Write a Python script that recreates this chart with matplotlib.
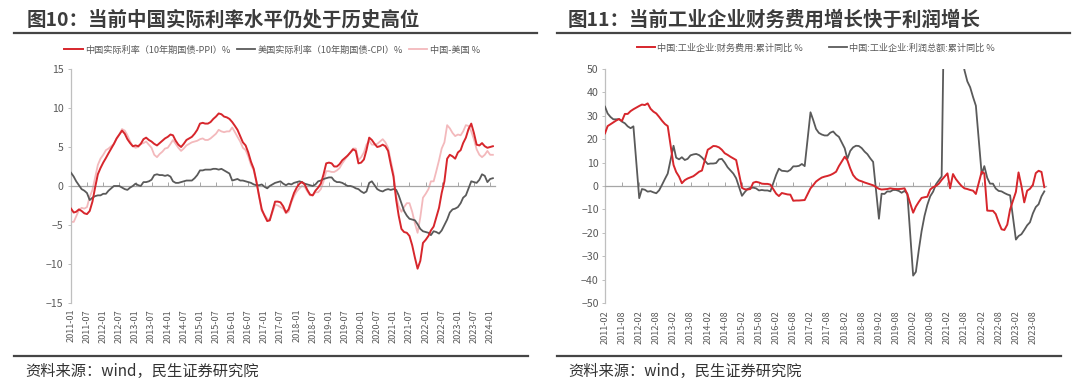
import matplotlib
matplotlib.use('Agg')
import matplotlib.pyplot as plt
from matplotlib.lines import Line2D
import pandas as pd

plt.rcParams['font.family'] = ['Noto Sans CJK SC', 'DejaVu Sans']

# ---------------- data: left chart (monthly, 2011-01 .. 2024-02) ----------------
china_real = [
    -2.9, -3.4, -3.3, -3.0, -3.2, -3.5, -3.6, -3.2, -2.0, -0.2, 1.5, 2.3,
    3.0, 3.6, 4.2, 4.8, 5.4, 6.1, 6.6, 7.1, 6.7, 6.0, 5.5, 5.1,
    5.2, 5.1, 5.4, 6.0, 6.2, 5.9, 5.7, 5.4, 5.2, 5.5, 5.8, 6.1,
    6.3, 6.6, 6.5, 5.8, 5.3, 5.0, 5.4, 5.9, 6.1, 6.3, 6.7, 7.2,
    8.0, 8.1, 8.0, 8.0, 8.2, 8.6, 8.9, 9.3, 9.2, 8.9, 8.8, 8.6,
    8.2, 7.7, 7.2, 6.4, 5.6, 5.2, 4.3, 3.1, 2.2, 0.6, -1.3, -3.0,
    -3.8, -4.5, -4.4, -3.2, -2.0, -2.0, -2.1, -2.6, -3.4, -3.0, -1.9, -0.9,
    -0.2, 0.3, 0.5, 0.2, -0.5, -1.1, -1.2, -0.6, -0.2, 0.3, 1.5, 2.9,
    3.0, 2.9, 2.5, 2.5, 2.8, 3.3, 3.6, 3.9, 4.3, 4.7, 4.5, 2.9,
    3.0, 3.4, 4.6, 6.2, 5.9, 5.4, 5.0, 5.1, 5.3, 5.1, 4.5, 2.8,
    1.2, -1.8, -3.8, -5.5, -5.9, -6.0, -6.4, -7.6, -9.2, -10.6, -9.6, -7.3,
    -6.9, -6.4, -5.7, -5.2, -4.0, -2.8, -0.9, 0.6, 3.5, 4.0, 3.8, 3.5,
    4.3, 4.6, 5.5, 6.2, 7.3, 8.0, 6.8, 5.3, 5.2, 5.5, 5.1, 4.9,
    5.0, 5.1,
]
us_real = [
    1.7, 1.2, 0.6, 0.1, -0.4, -0.6, -0.9, -1.8, -1.5, -1.3, -1.2, -1.2,
    -1.0, -1.0, -0.6, -0.3, 0.0, 0.0, 0.0, -0.2, -0.4, -0.5, -0.2, 0.0,
    0.3, 0.1, 0.0, 0.5, 0.5, 0.6, 0.8, 1.4, 1.5, 1.4, 1.4, 1.3,
    1.4, 1.2, 0.6, 0.4, 0.4, 0.5, 0.6, 0.7, 0.7, 0.7, 1.0, 1.4,
    2.0, 2.0, 2.1, 2.1, 2.1, 2.2, 2.2, 2.1, 2.2, 2.0, 1.8, 1.6,
    0.7, 0.8, 0.9, 0.7, 0.7, 0.6, 0.5, 0.4, 0.2, 0.1, 0.1, 0.2,
    -0.1, -0.3, 0.0, 0.2, 0.4, 0.5, 0.6, 0.3, 0.1, 0.3, 0.2, 0.4,
    0.5, 0.6, 0.5, 0.3, 0.2, 0.1, 0.0, 0.2, 0.6, 0.7, 0.9, 1.0,
    1.1, 1.1, 0.7, 0.5, 0.5, 0.4, 0.2, 0.0, 0.0, -0.1, -0.3, -0.4,
    -0.7, -0.9, -0.7, 0.4, 0.6, 0.1, -0.4, -0.6, -0.7, -0.5, -0.4, -0.5,
    -0.4, -0.5, -1.2, -2.2, -3.2, -3.8, -4.2, -4.3, -4.4, -4.9, -5.5, -5.8,
    -5.9, -6.0, -6.3, -5.8, -5.9, -6.1, -5.7, -5.0, -4.3, -3.4, -3.0, -2.9,
    -2.7, -2.2, -1.5, -1.2, -0.3, 0.6, 0.5, 0.4, 0.8, 1.5, 1.3, 0.5,
    0.9, 1.0,
]
china_minus_us = [
    -4.6, -4.6, -3.9, -3.1, -2.8, -2.9, -2.7, -1.4, -0.5, 1.1, 2.7, 3.5,
    4.0, 4.6, 4.8, 5.1, 5.4, 6.1, 6.6, 7.3, 7.1, 6.5, 5.7, 5.1,
    4.9, 5.0, 5.4, 5.5, 5.7, 5.3, 4.9, 4.0, 3.7, 4.1, 4.4, 4.8,
    4.9, 5.4, 5.9, 5.4, 4.9, 4.5, 4.8, 5.2, 5.4, 5.6, 5.7, 5.8,
    6.0, 6.1, 5.9, 5.9, 6.1, 6.4, 6.7, 7.2, 7.0, 6.9, 7.0, 7.0,
    7.5, 6.9, 6.3, 5.7, 4.9, 4.6, 3.8, 2.7, 2.0, 0.5, -1.4, -3.2,
    -3.7, -4.2, -4.4, -3.4, -2.4, -2.5, -2.7, -2.9, -3.5, -3.3, -2.1, -1.3,
    -0.7, -0.3, 0.0, -0.1, -0.7, -1.2, -1.2, -0.8, -0.8, -0.4, 0.6, 1.9,
    1.9, 1.8, 1.8, 2.0, 2.3, 2.9, 3.4, 3.9, 4.3, 4.8, 4.8, 3.3,
    3.7, 4.3, 5.3, 5.8, 5.3, 5.3, 5.4, 5.7, 6.0, 5.6, 4.9, 3.3,
    1.6, -1.3, -2.6, -3.3, -2.7, -2.2, -2.2, -3.3, -4.8, -6.0, -4.0, -1.5,
    -1.0, -0.4, 0.6, 0.6, 1.9, 3.3, 4.8, 5.6, 7.8, 7.4, 6.8, 6.4,
    6.6, 6.5, 7.0, 7.8, 7.7, 7.0, 6.0, 4.7, 4.0, 3.7, 4.0, 4.5,
    4.0, 4.0,
]
left_labels = ['中国实际利率（10年期国债-PPI）%', '美国实际利率（10年期国债-CPI）%', '中国-美国 %']
left_start = '2011-01-01'

# ---------------- data: right chart (Feb..Dec each year, 2011-2023) ----------------
fin_cost_yoy = [
    22.5, 25.6, 26.4, 27.2, 28.0, 28.6, 27.8, 30.8, 30.8, 32.0, 32.8,
    34.2, 34.8, 34.6, 35.3, 33.0, 31.8, 31.0, 29.5, 27.9, 26.5, 25.6,
    9.0, 6.0, 4.0, 1.2, 2.5, 3.2, 3.7, 4.2, 5.1, 6.1, 6.6,
    15.5, 16.2, 17.1, 17.0, 16.5, 15.5, 14.0, 13.3, 12.5, 11.8, 11.1,
    -0.8, -1.4, -1.5, -1.3, 1.4, 1.8, 1.5, 1.0, 0.9, 0.9, 0.6,
    -3.3, -4.3, -3.0, -3.3, -3.6, -3.7, -6.3, -6.2, -6.2, -6.1, -6.0,
    -1.0, 0.3, 1.9, 2.8, 3.6, 4.0, 4.3, 4.7, 5.3, 6.1, 8.5,
    12.5, 11.0, 7.5, 4.7, 3.2, 2.4, 2.0, 1.5, 1.1, 0.7, 0.3,
    -1.2, -1.5, -1.4, -1.3, -1.0, -1.2, -1.3, -1.3, -1.2, -1.0, -3.5,
    -11.4, -8.8, -6.8, -5.1, -4.8, -4.6, -1.5, -0.5, 0.0, 1.0, 2.6,
    5.4, -1.0, 5.1, 3.0, 1.4, 0.0, -1.0, -1.3, -1.7, -2.0, -3.4,
    6.1, 5.4, -10.5, -10.6, -10.6, -12.0, -15.5, -18.5, -18.8, -16.5, -10.0,
    -2.5, 5.8, 0.0, -7.0, -2.0, -1.2, 0.5, 5.5, 6.5, 6.0, -0.5,
]
profit_yoy = [
    33.9, 31.0, 29.5, 28.5, 28.5, 28.6, 27.5, 26.8, 25.5, 24.7, 25.5,
    -5.2, -1.3, -1.6, -2.4, -2.2, -2.7, -3.1, -1.8, 0.5, 3.0, 5.3,
    17.2, 12.1, 11.4, 12.3, 11.1, 11.6, 13.1, 13.5, 13.7, 13.2, 12.2,
    9.4, 9.6, 9.6, 9.8, 11.4, 11.6, 10.0, 8.0, 6.7, 5.3, 3.3,
    -4.2, -2.7, -1.3, -0.8, -0.7, -1.0, -1.9, -1.7, -1.9, -1.9, -2.3,
    4.8, 7.4, 6.5, 6.4, 6.2, 6.9, 8.4, 8.4, 8.6, 9.4, 8.5,
    31.5, 28.3, 24.4, 22.7, 22.0, 21.6, 21.6, 22.8, 23.3, 21.9, 21.0,
    16.1, 11.6, 15.0, 16.5, 17.2, 17.1, 16.2, 14.7, 13.6, 11.8, 10.3,
    -14.0, -3.3, -3.4, -2.3, -2.4, -1.7, -1.7, -2.1, -2.9, -2.1, -3.3,
    -38.3, -36.7, -27.4, -19.3, -12.8, -8.1, -4.4, -2.4, 0.7, 2.4, 4.1,
    178.9, 137.3, 106.0, 83.4, 66.9, 57.3, 49.5, 44.7, 42.2, 38.0, 34.3,
    5.0, 8.5, 3.5, 1.0, 1.0, -1.1, -2.1, -2.3, -3.0, -3.6, -4.0,
    -22.9, -21.4, -20.6, -18.8, -16.8, -15.5, -11.7, -9.0, -7.8, -4.4, -2.3,
]
right_labels = ['中国:工业企业:财务费用:累计同比 %', '中国:工业企业:利润总额:累计同比 %']

RED = '#D7262C'
GRAY = '#5A5A5A'
PINK = '#F3B9BC'
TXT = '#595959'

W, H = 1080, 390
fig = plt.figure(figsize=(W / 100, H / 100), dpi=100)


def fx(px):
    return px / W


def fy(py):
    return 1 - py / H


def style_axis(ax, pad):
    for s in ('top', 'right'):
        ax.spines[s].set_visible(False)
    ax.spines['left'].set_color('#BFBFBF')
    ax.spines['left'].set_linewidth(0.9)
    ax.spines['bottom'].set_position(('data', 0))
    ax.spines['bottom'].set_color('#A6A6A6')
    ax.spines['bottom'].set_linewidth(0.9)
    ax.tick_params(axis='x', direction='in', length=3, width=0.7, color='#A6A6A6',
                   pad=pad, labelrotation=90, labelsize=6.6, labelcolor=TXT)
    ax.tick_params(axis='y', direction='out', length=2.5, width=0.7, color='#BFBFBF',
                   pad=3, labelsize=7.6, labelcolor=TXT)
    ax.set_facecolor('none')


# ---------------- left chart ----------------
ldates = pd.date_range(left_start, periods=len(china_real), freq='MS')
ax1 = fig.add_axes([fx(71), fy(303), fx(495 - 71), (303 - 69) / H])
ax1.plot(ldates, china_minus_us, color=PINK, lw=1.3, zorder=2, label=left_labels[2])
ax1.plot(ldates, us_real, color=GRAY, lw=1.3, zorder=3, label=left_labels[1])
ax1.plot(ldates, china_real, color=RED, lw=1.4, zorder=4, label=left_labels[0])
ax1.set_ylim(-15, 15)
ax1.set_yticks(range(-15, 16, 5))
lticks = pd.date_range('2011-01-01', '2024-01-01', freq='6MS')
ax1.set_xticks(lticks)
ax1.set_xticklabels([d.strftime('%Y-%m') for d in lticks])
ax1.set_xlim(pd.Timestamp('2011-01-01'), pd.Timestamp('2024-02-25'))
style_axis(ax1, 88.5)
h, l = ax1.get_legend_handles_labels()
order = [2, 1, 0]
ax1.legend([h[i] for i in order], [l[i] for i in order], loc='center',
           bbox_to_anchor=(fx(272), fy(50)), bbox_transform=fig.transFigure,
           ncol=3, frameon=False, fontsize=6.6, handlelength=2.0, handletextpad=0.25,
           columnspacing=0.7, labelcolor=TXT)

# ---------------- right chart ----------------
all_m = pd.date_range('2011-02-01', '2023-12-01', freq='MS')
rdates = all_m[all_m.month != 1]
ax2 = fig.add_axes([fx(605), fy(303), fx(1046 - 605), (303 - 69) / H])
ax2.plot(rdates, fin_cost_yoy, color=RED, lw=1.4, zorder=4, label=right_labels[0])
ax2.plot(rdates, profit_yoy, color=GRAY, lw=1.3, zorder=3, label=right_labels[1])
ax2.set_ylim(-50, 50)
ax2.set_yticks(range(-50, 51, 10))
rticks = pd.date_range('2011-02-01', '2023-08-01', freq='6MS')
ax2.set_xticks(rticks)
ax2.set_xticklabels([d.strftime('%Y-%m') for d in rticks])
ax2.set_xlim(pd.Timestamp('2011-02-01'), pd.Timestamp('2023-12-19'))
style_axis(ax2, 89.5)
ax2.tick_params(axis='y', pad=2)
ax2.legend(loc='center', bbox_to_anchor=(fx(816), fy(48)), bbox_transform=fig.transFigure,
           ncol=2, frameon=False, fontsize=6.6, handlelength=2.0, handletextpad=0.25,
           columnspacing=2.8, labelcolor=TXT)

# ---------------- titles, rules, sources ----------------
fig.text(fx(27), fy(20), '图10：当前中国实际利率水平仍处于历史高位', fontsize=14,
         fontweight='bold', color='#3C3C3C', ha='left', va='center')
fig.text(fx(568), fy(20), '图11：当前工业企业财务费用增长快于利润增长', fontsize=14,
         fontweight='bold', color='#3C3C3C', ha='left', va='center')
for x0, x1 in ((14, 537), (557, 1070)):
    fig.add_artist(Line2D([fx(x0), fx(x1)], [fy(33), fy(33)], color='#454545', lw=1.6))
    fig.add_artist(Line2D([fx(x0), fx(x1 - 9)], [fy(356), fy(356)], color='#454545', lw=1.6))
fig.text(fx(25), fy(371), '资料来源：wind，民生证券研究院', fontsize=11, color='#333333',
         ha='left', va='center')
fig.text(fx(568), fy(371), '资料来源：wind，民生证券研究院', fontsize=11, color='#333333',
         ha='left', va='center')

fig.savefig('out.png', dpi=100, facecolor='white')
